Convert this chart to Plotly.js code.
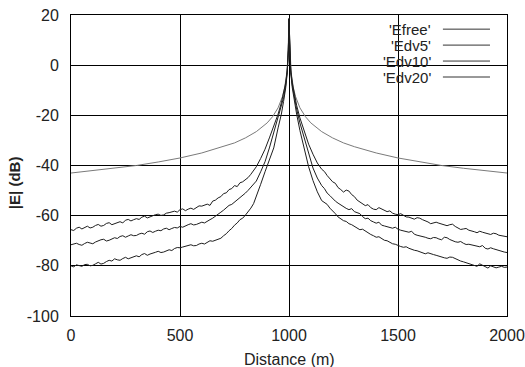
<!DOCTYPE html>
<html>
<head>
<meta charset="utf-8">
<script src="https://cdn.plot.ly/plotly-3.0.1.min.js"></script>
<style>html,body{margin:0;padding:0;background:#fff;}#chart{width:525px;height:367px;}</style>
</head>
<body>
<div id="chart"></div>
<script>
// Series names (legend labels)
var seriesNames = ["'Efree'", "'Edv5'", "'Edv10'", "'Edv20'"];

// Efree (smooth free-space curve)
var xFree = [0,100,200,300,400,500,600,700,750,800,850,900,925,950,970,980,990,995,998,1000,
             1002,1005,1010,1020,1030,1050,1075,1100,1150,1200,1250,1300,1400,1500,1600,1700,1800,1900,2000];
var yFree = [-43,-42.1,-41.1,-40,-38.6,-37,-35,-32.5,-31,-29,-26.5,-23,-20.5,-17,-12.5,-9,-3,3,11,18.5,
             11,3,-3,-9,-12.5,-17,-20.5,-23,-26.5,-29,-31,-32.5,-35,-37,-38.6,-40,-41.1,-42.1,-43];

// Noisy curves: shared distance samples (m)
var xDv = [
  0,12.5,25,37.5,50,62.5,75,87.5,
  100,112.5,125,137.5,150,162.5,175,187.5,
  200,212.5,225,237.5,250,262.5,275,287.5,
  300,312.5,325,337.5,350,362.5,375,387.5,
  400,412.5,425,437.5,450,462.5,475,487.5,
  500,512.5,525,537.5,550,562.5,575,587.5,
  600,612.5,625,637.5,650,662.5,675,687.5,
  700,712.5,725,737.5,750,762.5,775,787.5,
  800,812.5,825,837.5,850,
  870,890,910,930,950,965,975,985,992,997,
  1000,
  1003,1008,1015,1025,1035,1050,1070,1090,1110,1130,
  1150,1162.5,1175,1187.5,
  1200,1212.5,1225,1237.5,1250,1262.5,1275,1287.5,
  1300,1312.5,1325,1337.5,1350,1362.5,1375,1387.5,
  1400,1412.5,1425,1437.5,1450,1462.5,1475,1487.5,
  1500,1512.5,1525,1537.5,1550,1562.5,1575,1587.5,
  1600,1612.5,1625,1637.5,1650,1662.5,1675,1687.5,
  1700,1712.5,1725,1737.5,1750,1762.5,1775,1787.5,
  1800,1812.5,1825,1837.5,1850,1862.5,1875,1887.5,
  1900,1912.5,1925,1937.5,1950,1962.5,1975,1987.5,
  2000];

var yDv5 = [
  -65.6,-65.9,-65.0,-64.6,-65.3,-64.8,-64.2,-64.9,
  -64.6,-63.9,-63.5,-64.2,-63.9,-63.1,-62.8,-63.6,
  -63.2,-62.7,-62.4,-62.9,-61.8,-61.5,-62.1,-61.6,
  -61.2,-61.5,-60.6,-60.2,-60.9,-60.5,-60.0,-59.6,
  -59.4,-59.9,-59.7,-59.0,-58.8,-58.4,-58.2,-58.6,
  -57.6,-57.3,-58.0,-57.4,-57.0,-57.5,-56.8,-56.1,
  -56.2,-55.8,-55.4,-55.9,-54.2,-53.8,-52.9,-52.4,
  -51.2,-50.9,-49.6,-49.2,-48.0,-48.4,-46.9,-46.5,
  -45.6,-44.8,-43.5,-42.2,-40.5,
  -37.2,-33.5,-29.0,-24.5,-19.5,-15.0,-11.5,-7.0,-2.0,6.0,
  18.5,
  6.0,-2.0,-7.0,-12.0,-16.0,-21.0,-26.5,-31.5,-35.5,-39.0,
  -41.5,-42.4,-44.0,-45.2,
  -46.5,-47.1,-48.8,-49.6,-50.6,-49.8,-50.2,-51.6,
  -52.4,-53.8,-54.6,-55.3,-56.0,-55.6,-56.8,-57.4,
  -57.6,-56.8,-57.3,-58.0,-58.4,-58.1,-59.0,-59.4,
  -59.6,-59.2,-60.0,-60.5,-60.6,-61.1,-61.4,-60.8,
  -61.0,-61.6,-62.0,-62.5,-63.2,-62.9,-62.6,-63.0,
  -63.4,-63.8,-64.0,-63.6,-63.4,-64.3,-65.0,-65.5,
  -65.3,-65.1,-65.8,-66.0,-66.4,-66.8,-66.2,-66.6,
  -67.0,-67.3,-67.5,-67.0,-67.2,-67.8,-68.0,-68.3,
  -68.4];

var yDv10 = [
  -71.6,-71.2,-71.0,-71.5,-71.8,-71.1,-70.6,-70.9,
  -71.2,-70.5,-70.0,-69.6,-69.4,-70.1,-69.8,-69.2,
  -68.8,-69.1,-68.3,-68.0,-68.6,-68.1,-67.6,-68.0,
  -67.9,-67.3,-67.0,-67.4,-66.4,-66.1,-66.7,-66.2,
  -65.8,-66.0,-65.3,-65.0,-65.6,-65.1,-64.7,-64.9,
  -64.3,-64.6,-64.0,-63.6,-63.2,-63.7,-63.5,-62.9,
  -62.6,-62.9,-62.1,-61.6,-61.0,-60.1,-59.2,-58.6,
  -57.8,-57.0,-55.9,-55.5,-54.6,-53.6,-52.9,-52.1,
  -51.0,-49.9,-48.8,-47.6,-46.2,
  -42.5,-38.5,-33.0,-27.0,-21.5,-17.0,-13.0,-8.0,-2.5,6.0,
  18.5,
  6.0,-2.5,-8.0,-13.0,-17.5,-23.0,-29.0,-35.5,-41.0,-45.0,
  -48.0,-49.2,-51.0,-52.0,
  -53.2,-54.2,-55.0,-55.8,-56.4,-57.1,-57.6,-57.2,
  -58.4,-58.9,-59.2,-60.4,-61.2,-61.0,-62.0,-62.5,
  -63.0,-62.6,-63.8,-64.1,-64.4,-64.9,-65.0,-64.6,
  -65.4,-65.8,-66.0,-66.5,-66.6,-66.2,-67.4,-67.8,
  -68.0,-68.3,-68.6,-69.0,-69.2,-68.7,-68.8,-69.3,
  -69.6,-68.6,-68.8,-69.5,-70.0,-70.4,-70.6,-70.3,
  -71.0,-71.5,-71.4,-71.7,-72.0,-72.4,-72.4,-71.9,
  -73.0,-73.3,-72.8,-73.2,-73.6,-74.0,-74.2,-74.5,
  -74.7];

var yDv20 = [
  -80.0,-80.4,-79.6,-79.9,-80.2,-79.5,-79.4,-80.0,
  -79.8,-79.2,-78.6,-79.3,-79.0,-78.3,-77.8,-78.1,
  -77.2,-77.6,-77.8,-77.1,-76.6,-77.2,-76.9,-76.3,
  -76.0,-76.4,-75.5,-75.1,-75.8,-75.3,-74.8,-74.6,
  -74.2,-74.7,-74.5,-73.9,-73.6,-73.9,-73.1,-72.7,
  -72.8,-72.5,-72.3,-71.8,-71.6,-72.0,-71.9,-71.3,
  -71.0,-71.3,-70.5,-70.0,-70.2,-69.8,-69.6,-69.0,
  -68.0,-67.2,-66.0,-65.1,-63.8,-62.9,-61.6,-61.0,
  -59.8,-58.6,-57.0,-55.2,-52.5,
  -47.5,-42.5,-38.0,-33.0,-25.0,-19.5,-14.5,-9.0,-3.0,6.0,
  18.5,
  6.0,-3.0,-9.0,-14.5,-19.5,-26.0,-33.0,-40.5,-46.0,-50.5,
  -54.0,-54.8,-55.5,-57.0,
  -58.0,-59.2,-60.5,-61.4,-62.0,-62.3,-63.2,-63.6,
  -64.2,-65.0,-65.6,-65.4,-66.2,-66.9,-67.5,-68.0,
  -68.6,-68.4,-69.2,-69.8,-70.0,-70.6,-71.2,-71.4,
  -72.0,-72.3,-72.6,-72.4,-73.0,-73.5,-73.8,-74.0,
  -74.4,-74.9,-75.2,-74.8,-75.0,-75.5,-75.8,-76.2,
  -76.4,-76.8,-77.0,-76.5,-76.6,-77.2,-77.6,-78.1,
  -78.4,-78.7,-79.0,-79.4,-79.6,-80.2,-79.2,-79.8,
  -80.4,-80.9,-80.0,-80.4,-80.8,-80.5,-80.2,-80.6,
  -80.5];

// Axis ticks
var xTicks = [0,500,1000,1500,2000];
var yTicks = [-100,-80,-60,-40,-20,0,20];

var colors = ['#7a7a7a', '#1e1e1e', '#1e1e1e', '#1e1e1e'];
var xs = [xFree, xDv, xDv, xDv];
var ys = [yFree, yDv5, yDv10, yDv20];

var traces = [];
for (var i = 0; i < 4; i++) {
  traces.push({x: xs[i], y: ys[i], type: 'scatter', mode: 'lines', name: seriesNames[i],
               line: {color: colors[i], width: 1}, showlegend: false, hoverinfo: 'skip'});
}

var fam = "'Liberation Sans', Arial, Helvetica, sans-serif";
var font = {family: fam, size: 16, color: '#222'};

var legendYs = [0.953, 0.900, 0.847, 0.794];
var annotations = [
  {xref: 'paper', yref: 'paper', x: 0.5, y: -0.145, yanchor: 'middle', xanchor: 'center',
   text: 'Distance (m)', showarrow: false, font: {family: fam, size: 16, color: '#222'}},
  {xref: 'paper', yref: 'paper', x: -0.128, y: 0.442, xanchor: 'center', yanchor: 'middle', textangle: -90,
   text: '<b>|E| (dB)</b>', showarrow: false, font: {family: fam, size: 15, color: '#222'}}
];
var shapes = [
  {type: 'rect', xref: 'paper', yref: 'paper', x0: 0.67, x1: 0.982, y0: 0.775, y1: 0.984,
   fillcolor: '#fff', line: {width: 0}, layer: 'between'}
];
for (var j = 0; j < 4; j++) {
  annotations.push({xref: 'paper', yref: 'paper', x: 0.83, y: legendYs[j], xanchor: 'right', yanchor: 'middle',
                    text: seriesNames[j], showarrow: false, font: {family: fam, size: 15, color: '#222'}});
  shapes.push({type: 'line', xref: 'paper', yref: 'paper', x0: 0.853, x1: 0.961, y0: legendYs[j], y1: legendYs[j],
               line: {color: '#333', width: 1}});
}

var layout = {
  width: 525, height: 367,
  margin: {l: 71, r: 18, t: 15, b: 51},
  paper_bgcolor: '#fff', plot_bgcolor: '#fff',
  font: font,
  showlegend: false,
  xaxis: {range: [0, 2000], tickvals: xTicks, ticktext: xTicks.map(String), showgrid: true, gridcolor: '#000', gridwidth: 1,
          zeroline: false, showline: true, mirror: true, linecolor: '#000', linewidth: 1,
          ticks: 'outside', ticklen: 5, tickcolor: 'rgba(0,0,0,0)', tickfont: font},
  yaxis: {range: [-100, 20], tickvals: yTicks, ticktext: yTicks.map(String), showgrid: true, gridcolor: '#000', gridwidth: 1,
          zeroline: false, showline: true, mirror: true, linecolor: '#000', linewidth: 1,
          ticks: 'outside', ticklen: 8, tickcolor: 'rgba(0,0,0,0)', tickfont: font},
  annotations: annotations,
  shapes: shapes
};

Plotly.newPlot('chart', traces, layout, {staticPlot: true, displayModeBar: false});
</script>
</body>
</html>
